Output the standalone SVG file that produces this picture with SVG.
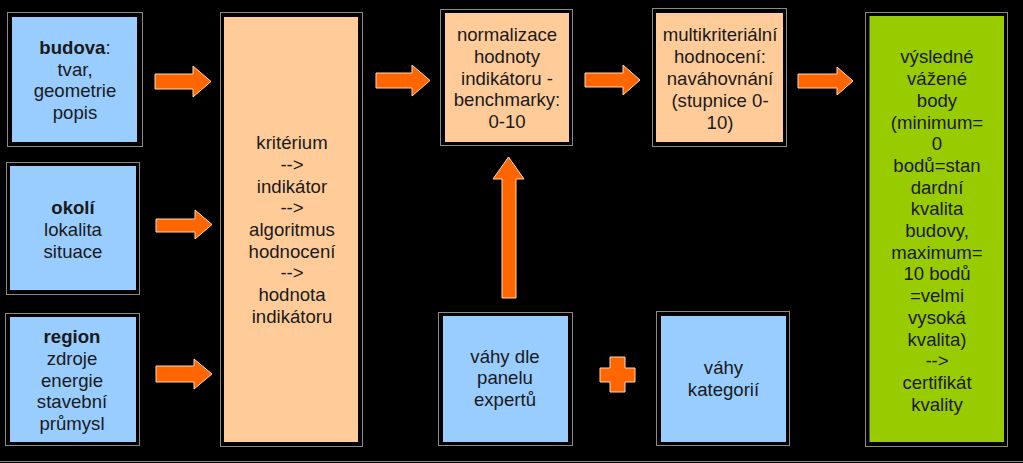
<svg xmlns="http://www.w3.org/2000/svg" width="1023" height="463" viewBox="0 0 1023 463">
<style>
.frame{fill:#000;stroke:#8a8a8a;stroke-width:1}
.blue{fill:#99CCFF}
.peach{fill:#FFCC99}
.green{fill:#99CC00}
text{font-family:"Liberation Sans",Arial,sans-serif;font-size:18.6px;fill:#1a1a1a;text-anchor:middle}
.b{font-weight:bold}
.arr{fill:#FF6600;stroke:#ffd9b3;stroke-width:1}
</style>
<rect x="0" y="0" width="1023" height="463" fill="#000"/>
<line x1="0" y1="461.5" x2="1023" y2="461.5" stroke="#8a8a8a" stroke-width="1"/>

<g id="budova">
<rect class="frame" x="7.5" y="12.5" width="135" height="134"/>
<rect class="blue" x="12" y="17" width="125" height="125"/>
<text x="75" y="54"><tspan class="b">budova</tspan>:</text>
<text x="75" y="76">tvar,</text>
<text x="75" y="97">geometrie</text>
<text x="75" y="119">popis</text>
</g>

<g id="okoli">
<rect class="frame" x="6.5" y="162.5" width="133" height="132"/>
<rect class="blue" x="10" y="166" width="126" height="124"/>
<text class="b" x="73" y="214">okolí</text>
<text x="73" y="236">lokalita</text>
<text x="73" y="258">situace</text>
</g>

<g id="region">
<rect class="frame" x="5.5" y="313.5" width="134" height="132"/>
<rect class="blue" x="10" y="317" width="126" height="125"/>
<text class="b" x="72" y="343">region</text>
<text x="72" y="365">zdroje</text>
<text x="72" y="387">energie</text>
<text x="72" y="408">stavební</text>
<text x="72" y="430">průmysl</text>
</g>

<g id="kriterium">
<rect class="frame" x="220.5" y="12.5" width="142" height="434"/>
<rect class="peach" x="224" y="17" width="134" height="425"/>
<text x="292" y="149">kritérium</text>
<text x="292" y="171">--&gt;</text>
<text x="292" y="193">indikátor</text>
<text x="292" y="214">--&gt;</text>
<text x="292" y="236">algoritmus</text>
<text x="292" y="258">hodnocení</text>
<text x="292" y="279">--&gt;</text>
<text x="292" y="301">hodnota</text>
<text x="292" y="323">indikátoru</text>
</g>

<g id="normalizace">
<rect class="frame" x="440.5" y="9.5" width="132" height="136"/>
<rect class="peach" x="445" y="13" width="124" height="129"/>
<text x="507" y="41">normalizace</text>
<text x="507" y="63">hodnoty</text>
<text x="507" y="85">indikátoru -</text>
<text x="507" y="106">benchmarky:</text>
<text x="507" y="128">0-10</text>
</g>

<g id="multikriterialni">
<rect class="frame" x="652.5" y="8.5" width="134" height="138"/>
<rect class="peach" x="656" y="13" width="127" height="129"/>
<text x="720" y="41">multikriteriální</text>
<text x="720" y="63">hodnocení:</text>
<text x="720" y="85">naváhovnání</text>
<text x="720" y="107">(stupnice 0-</text>
<text x="720" y="129">10)</text>
</g>

<g id="vysledek">
<rect class="frame" x="865.5" y="12.5" width="142" height="434"/>
<rect class="green" x="869.5" y="16" width="134.5" height="426"/>
<text x="937" y="63">výsledné</text>
<text x="937" y="85">vážené</text>
<text x="937" y="107">body</text>
<text x="937" y="129">(minimum=</text>
<text x="937" y="150">0</text>
<text x="937" y="172">bodů=stan</text>
<text x="937" y="194">dardní</text>
<text x="937" y="215">kvalita</text>
<text x="937" y="237">budovy,</text>
<text x="937" y="259">maximum=</text>
<text x="937" y="280">10 bodů</text>
<text x="937" y="302">=velmi</text>
<text x="937" y="324">vysoká</text>
<text x="937" y="346">kvalita)</text>
<text x="937" y="367">--&gt;</text>
<text x="937" y="389">certifikát</text>
<text x="937" y="411">kvality</text>
</g>

<g id="vahy-expertu">
<rect class="frame" x="438.5" y="312.5" width="134" height="133"/>
<rect class="blue" x="443" y="316" width="125" height="126"/>
<text x="505" y="363">váhy dle</text>
<text x="505" y="384">panelu</text>
<text x="505" y="406">expertů</text>
</g>

<g id="vahy-kategorii">
<rect class="frame" x="656.5" y="311.5" width="133" height="134"/>
<rect class="blue" x="661" y="316" width="125" height="126"/>
<text x="723.5" y="374">váhy</text>
<text x="723.5" y="396">kategorií</text>
</g>

<g id="connectors">
<polygon class="arr" points="155,74 193,74 193,66 211,81.5 193,97 193,89 155,89"/>
<polygon class="arr" points="156,219 195,219 195,210 212,224.5 195,239 195,232 156,232"/>
<polygon class="arr" points="156,366 194,366 194,359 212,374 194,389 194,382 156,382"/>
<polygon class="arr" points="376,73 412,73 412,65 430,80.5 412,96 412,88 376,88"/>
<polygon class="arr" points="585,73 623,73 623,65 640,80 623,95 623,87 585,87"/>
<polygon class="arr" points="798,74 837,74 837,67 853,81 837,95 837,88 798,88"/>
<polygon class="arr" points="502,298 502,179 493,179 508.5,157 524,179 516,179 516,298"/>
<polygon class="arr" points="610,357 625,357 625,368 635,368 635,382 625,382 625,392 610,392 610,382 600,382 600,368 610,368"/>
</g>
</svg>
